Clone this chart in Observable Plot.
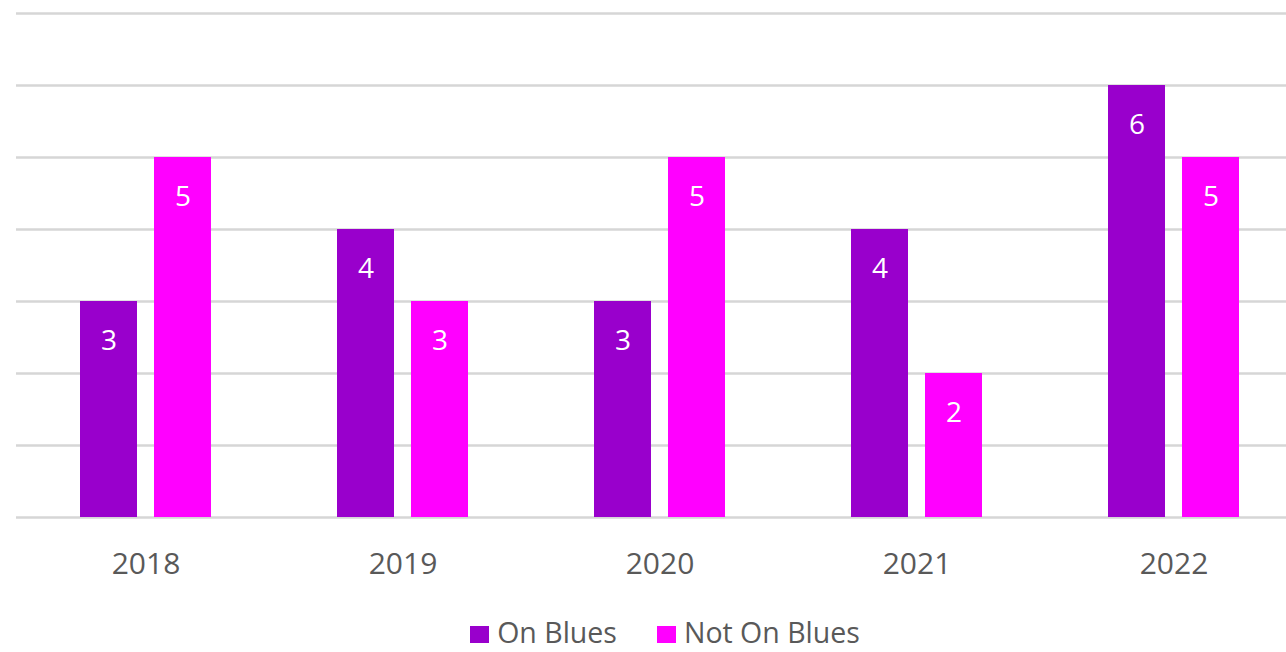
<!DOCTYPE html>
<html><head><meta charset="utf-8">
<script src="https://cdn.jsdelivr.net/npm/d3@7"></script>
<script src="https://cdn.jsdelivr.net/npm/@observablehq/plot@0.6"></script>
<style>
body{margin:0;background:#fff;font-family:"Open Sans",sans-serif;}
#wrap{position:relative;width:1286px;height:652px;overflow:hidden;background:#fff}
#legend{position:absolute;top:617px;left:0;width:1286px;height:30px;display:flex;justify-content:center;align-items:center;gap:40px;font-size:28.5px;line-height:30px;color:#595959;padding-left:44px;box-sizing:border-box}
.item{display:flex;align-items:center;gap:8px;white-space:nowrap;height:30px}
.sw{width:19px;height:17px;display:block;margin-top:4px}
.lbl{display:block;height:30px;line-height:30px}
</style></head><body>
<div id="wrap"><div id="chart"></div><div id="legend"></div></div>
<script>
const years = ["2018","2019","2020","2021","2022"];
const series = ["On Blues","Not On Blues"];
const onBlues = [3,4,3,4,6];
const notOnBlues = [5,3,5,2,5];
const gridTicks = [0,1,2,3,4,5,6,7];
const colors = ["#9900CC","#FF00FF"];

const dataOn = years.map((y,i)=>({year:y, series:series[0], value:onBlues[i]}));
const dataNot = years.map((y,i)=>({year:y, series:series[1], value:notOnBlues[i]}));

const chart = Plot.plot({
  width: 1286,
  height: 610,
  marginLeft: 16,
  marginRight: 0,
  marginTop: 13,
  marginBottom: 93,
  style: {fontFamily: "Open Sans", fontSize: "30px", color: "#595959", background: "#fff"},
  x: {domain: years, range: [16, 1303], paddingInner: 0.491, paddingOuter: 0.2455, label: null},
  y: {domain: [0, 7], axis: null},
  marks: [
    Plot.ruleY(gridTicks, {stroke: "#d6d6d6", strokeWidth: 2.5}),
    Plot.barY(dataOn, {x: "year", y: "value", fill: colors[0], insetRight: 74}),
    Plot.barY(dataNot, {x: "year", y: "value", fill: colors[1], insetLeft: 74}),
    Plot.text(dataOn, {x: "year", y: "value", text: d => String(d.value), dx: -37, dy: 40, fill: "white", fontSize: 28}),
    Plot.text(dataNot, {x: "year", y: "value", text: d => String(d.value), dx: 37, dy: 40, fill: "white", fontSize: 28}),
    Plot.axisX({tickSize: 0, tickPadding: 35, fontSize: 30, fill: "#595959", label: null})
  ]
});
document.getElementById("chart").appendChild(chart);

const legend = document.getElementById("legend");
series.forEach((s, i) => {
  const it = document.createElement("div");
  it.className = "item";
  const sw = document.createElement("span");
  sw.className = "sw";
  sw.style.background = colors[i];
  const t = document.createElement("span");
  t.className = "lbl";
  t.textContent = s;
  it.appendChild(sw); it.appendChild(t);
  legend.appendChild(it);
});
</script>
</body></html>
